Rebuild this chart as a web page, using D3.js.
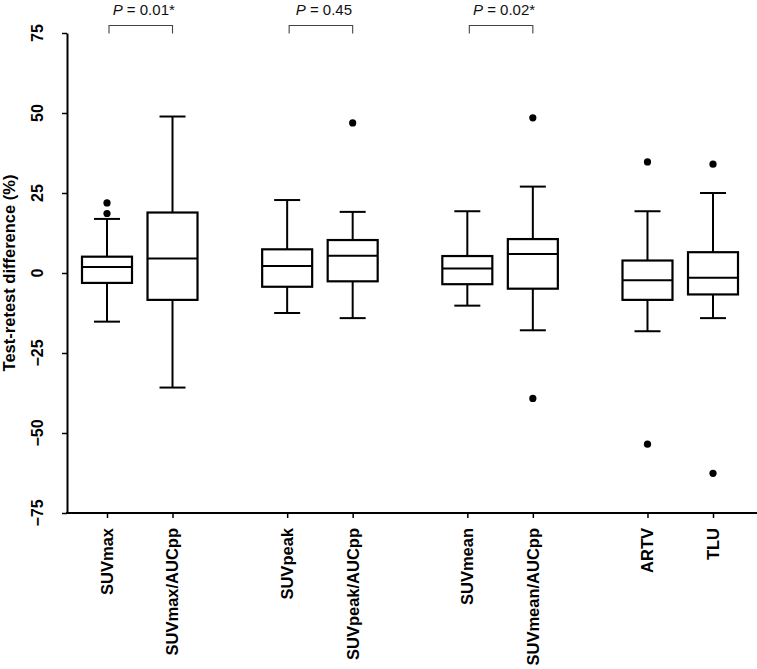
<!DOCTYPE html>
<html>
<head>
<meta charset="utf-8">
<script src="https://cdn.jsdelivr.net/npm/d3@7"></script>
<style>
  html, body { margin: 0; padding: 0; background: #fff; }
  svg { display: block; font-family: Arial, "Liberation Sans", sans-serif; }
</style>
</head>
<body>
<svg id="chart" width="757" height="669"></svg>
<script>
// ---- data ----
const categories = ["SUVmax", "SUVmax/AUCpp", "SUVpeak", "SUVpeak/AUCpp", "SUVmean", "SUVmean/AUCpp", "ARTV", "TLU"];
const groupOf    = [0, 0, 1, 1, 2, 2, 3, 3];
const whiskerLow  = [-15.2, -35.8, -12.5, -14.1, -10.2, -17.9, -18.2, -14.1];
const q1          = [-3.1, -8.4, -4.3, -2.6, -3.5, -4.9, -8.4, -6.7];
const median      = [1.9, 4.5, 2.2, 5.4, 1.4, 5.9, -2.3, -1.5];
const q3          = [5.1, 18.9, 7.4, 10.3, 5.3, 10.6, 3.9, 6.5];
const whiskerHigh = [16.9, 48.9, 22.8, 19.1, 19.3, 27.0, 19.3, 25.0];
const outlierCat   = ["SUVmax", "SUVmax", "SUVpeak/AUCpp", "SUVmean/AUCpp", "SUVmean/AUCpp", "ARTV", "ARTV", "TLU", "TLU"];
const outlierValue = [18.6, 21.9, 46.9, 48.5, -39.2, 34.7, -53.5, 34.0, -62.6];
const compareA = ["SUVmax", "SUVpeak", "SUVmean"];
const compareB = ["SUVmax/AUCpp", "SUVpeak/AUCpp", "SUVmean/AUCpp"];
const compareP = ["0.01*", "0.45", "0.02*"];
const yTicks = [-75, -50, -25, 0, 25, 50, 75];
const yTitle = "Test-retest difference (%)";

// ---- layout ----
const svg = d3.select("#chart");
const axisX0 = 67, axisRight = 757, plotTop = 33, plotBottom = 513;
const y = d3.scaleLinear().domain([-75, 75]).range([plotBottom, plotTop]);

// slot position: group index * 2.75 + member index
const slots = categories.map((c, i) => groupOf[i] * 2.75 + (i % 2));
const slotScale = d3.scaleLinear().domain([0, 9.25]).range([107, 713]);
const x = d3.scaleOrdinal().domain(categories).range(slots.map(s => slotScale(s)));
const boxW = 50, capW = 26;
const FONT = "Arial, 'Liberation Sans', sans-serif";

// ---- y axis ----
const yAxis = svg.append("g").attr("transform", `translate(${axisX0},0)`)
  .call(d3.axisLeft(y).tickValues(yTicks).tickSize(5).tickSizeOuter(0).tickFormat(""));
yAxis.select(".domain").attr("stroke", "#000").attr("stroke-width", 2);
yAxis.selectAll(".tick line").attr("stroke", "#000").attr("stroke-width", 1.5);
yAxis.selectAll(".tick text").remove();

svg.append("g").selectAll("text").data(yTicks).join("text")
  .attr("transform", d => `translate(${axisX0 - 24},${y(d)}) rotate(-90)`)
  .attr("text-anchor", "middle")
  .attr("fill", "#000")
  .style("font-size", "16px").style("font-weight", "bold")
  .style("font-family", FONT)
  .text(d => d3.format("d")(d));

svg.append("text")
  .attr("transform", `translate(15,${y(0)}) rotate(-90)`)
  .attr("text-anchor", "middle")
  .style("font-size", "16.5px").style("font-weight", "bold")
  .style("font-family", FONT)
  .text(yTitle);

// ---- x axis ----
svg.append("line")
  .attr("x1", axisX0 - 1).attr("x2", axisRight)
  .attr("y1", plotBottom).attr("y2", plotBottom)
  .attr("stroke", "#000").attr("stroke-width", 2);
const xAxis = svg.append("g").attr("transform", `translate(0,${plotBottom})`)
  .call(d3.axisBottom(x).tickSize(5).tickSizeOuter(0).tickFormat(""));
xAxis.select(".domain").remove();
xAxis.selectAll(".tick line").attr("stroke", "#000").attr("stroke-width", 1.5);
xAxis.selectAll(".tick text").remove();

svg.append("g").selectAll("text").data(categories).join("text")
  .attr("transform", d => `translate(${x(d)},${plotBottom + 15}) rotate(-90)`)
  .attr("dy", "0.36em")
  .attr("text-anchor", "end")
  .attr("fill", "#000")
  .style("font-size", "16.5px").style("font-weight", "bold")
  .style("font-family", FONT)
  .text(d => d);

// ---- boxes ----
const boxes = svg.append("g").selectAll("g").data(categories).join("g");
boxes.append("line")
  .attr("x1", d => x(d)).attr("x2", d => x(d))
  .attr("y1", (d, i) => y(whiskerLow[i])).attr("y2", (d, i) => y(whiskerHigh[i]))
  .attr("stroke", "#000").attr("stroke-width", 2);
boxes.append("line")
  .attr("x1", d => x(d) - capW / 2).attr("x2", d => x(d) + capW / 2)
  .attr("y1", (d, i) => y(whiskerLow[i])).attr("y2", (d, i) => y(whiskerLow[i]))
  .attr("stroke", "#000").attr("stroke-width", 2);
boxes.append("line")
  .attr("x1", d => x(d) - capW / 2).attr("x2", d => x(d) + capW / 2)
  .attr("y1", (d, i) => y(whiskerHigh[i])).attr("y2", (d, i) => y(whiskerHigh[i]))
  .attr("stroke", "#000").attr("stroke-width", 2);
boxes.append("rect")
  .attr("x", d => x(d) - boxW / 2).attr("width", boxW)
  .attr("y", (d, i) => y(q3[i])).attr("height", (d, i) => y(q1[i]) - y(q3[i]))
  .attr("fill", "#fff").attr("stroke", "#000").attr("stroke-width", 2.2);
boxes.append("line")
  .attr("x1", d => x(d) - boxW / 2).attr("x2", d => x(d) + boxW / 2)
  .attr("y1", (d, i) => y(median[i])).attr("y2", (d, i) => y(median[i]))
  .attr("stroke", "#000").attr("stroke-width", 2);

// ---- outliers ----
svg.append("g").selectAll("circle").data(outlierValue).join("circle")
  .attr("cx", (d, i) => x(outlierCat[i]))
  .attr("cy", d => y(d))
  .attr("r", 3.6)
  .attr("fill", "#000");

// ---- comparison brackets ----
const br = svg.append("g").selectAll("g").data(compareP).join("g");
br.append("path")
  .attr("d", (d, i) => {
    const a = x(compareA[i]) + 2, b = x(compareB[i]);
    return `M${a},33.5V25.5H${b}V33.5`;
  })
  .attr("fill", "none").attr("stroke", "#444").attr("stroke-width", 1.1);
const pt = br.append("text")
  .attr("x", (d, i) => (x(compareA[i]) + x(compareB[i])) / 2 + 4)
  .attr("y", 15)
  .attr("text-anchor", "middle")
  .style("font-size", "15px")
  .style("font-family", FONT)
  .attr("fill", "#111");
pt.append("tspan").style("font-style", "italic").text("P");
pt.append("tspan").text(d => " = " + d);
</script>
</body>
</html>
